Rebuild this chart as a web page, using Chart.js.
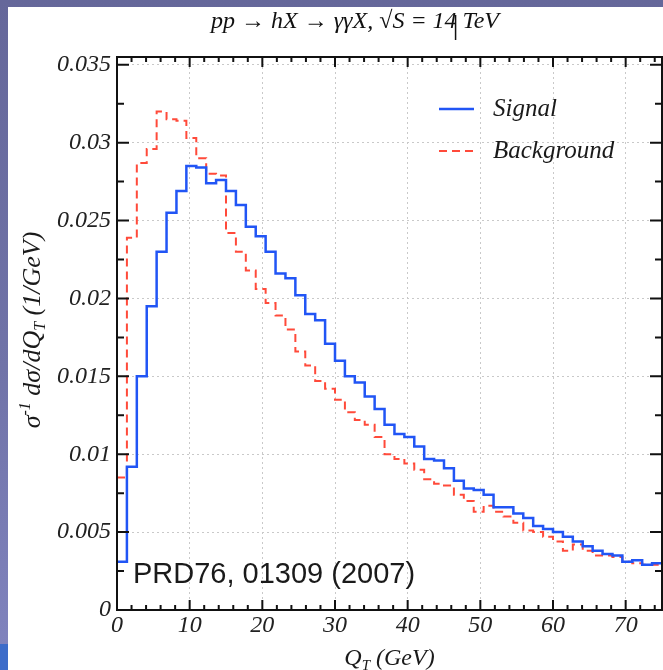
<!DOCTYPE html>
<html>
<head>
<meta charset="utf-8">
<script src="https://cdn.jsdelivr.net/npm/chart.js@4.4.0/dist/chart.umd.min.js"></script>
<style>
    html, body { margin: 0; padding: 0; }
    body {
        width: 663px; height: 670px; overflow: hidden; position: relative;
        background: linear-gradient(to bottom, #65679a 0%, #7073a8 55%, #8184bf 100%);
    }
    #corner { position: absolute; left: 0; top: 644px; width: 8px; height: 26px; background: #3d6cc9; }
    #wrap { position: absolute; left: 8px; top: 7px; width: 655px; height: 663px; background: #fff; }
</style>
</head>
<body>
<div id="corner"></div>
<div id="wrap"><canvas id="chart" width="655" height="663"></canvas></div>
<script>
// Q_T histogram, 55 bins from 0 to 75 GeV
const binWidth = 75 / 55;

const signal = [
    0.0031, 0.0092, 0.0150, 0.0195, 0.0230, 0.0255, 0.0269, 0.0285, 0.0284, 0.0274,
    0.0276, 0.0269, 0.0260, 0.0246, 0.0240, 0.0230, 0.0216, 0.0213, 0.0202, 0.0190,
    0.0186, 0.0171, 0.0160, 0.0150, 0.0146, 0.0137, 0.0129, 0.0119, 0.0113, 0.0111,
    0.0105, 0.0097, 0.0096, 0.0091, 0.0083, 0.0078, 0.0077, 0.0074, 0.0066, 0.0066,
    0.0062, 0.0059, 0.0054, 0.0052, 0.0050, 0.0047, 0.0044, 0.0041, 0.0038, 0.0036,
    0.0035, 0.0031, 0.0032, 0.0029, 0.0030
];

const background = [
    0.0085, 0.0239, 0.0287, 0.0296, 0.0320, 0.0315, 0.0314, 0.0303, 0.0290, 0.0280,
    0.0279, 0.0242, 0.0230, 0.0218, 0.0206, 0.0197, 0.0189, 0.0180, 0.0166, 0.0157,
    0.0147, 0.0142, 0.0135, 0.0127, 0.0122, 0.0119, 0.0111, 0.0100, 0.0097, 0.0094,
    0.0090, 0.0084, 0.0081, 0.0080, 0.0074, 0.0070, 0.0063, 0.0067, 0.0063, 0.0060,
    0.0056, 0.0051, 0.0050, 0.0047, 0.0044, 0.0038, 0.0042, 0.0038, 0.0035, 0.0035,
    0.0034, 0.0031, 0.0030, 0.0029, 0.0029
];

const xTicks = [0, 10, 20, 30, 40, 50, 60, 70];
const yTicks = [0, 0.005, 0.01, 0.015, 0.02, 0.025, 0.03, 0.035];

const SERIF = '"Liberation Serif", "Times New Roman", serif';
const SANS = '"Liberation Sans", Arial, sans-serif';
const BLUE = '#2155f5';
const RED = '#ff4a3a';

// one point per bin left edge, plus the right edge of the last bin
function histPoints(values) {
    const pts = values.map((v, i) => ({ x: i * binWidth, y: v }));
    pts.push({ x: values.length * binWidth, y: values[values.length - 1] });
    return pts;
}

// draw a string made of pieces (sub/superscripts), starting at x
function drawPieces(ctx, pieces, x, y) {
    pieces.forEach(p => {
        ctx.font = 'italic ' + p.size + 'px ' + SERIF;
        ctx.fillText(p.t, x, y + (p.dy || 0));
        x += ctx.measureText(p.t).width;
    });
}
function piecesWidth(ctx, pieces) {
    let w = 0;
    pieces.forEach(p => {
        ctx.font = 'italic ' + p.size + 'px ' + SERIF;
        w += ctx.measureText(p.t).width;
    });
    return w;
}

const decorations = {
    id: 'decorations',
    afterDraw(chart) {
        const ctx = chart.ctx;
        const a = chart.chartArea;
        const xs = chart.scales.x, ys = chart.scales.y;
        ctx.save();

        // frame
        ctx.strokeStyle = '#111';
        ctx.lineWidth = 2;
        ctx.strokeRect(a.left, a.top, a.right - a.left, a.bottom - a.top);

        // inward ticks
        ctx.beginPath();
        for (let v = 0; v <= 75; v += 2) {
            const px = xs.getPixelForValue(v);
            const len = v % 10 === 0 ? 10 : 5;
            ctx.moveTo(px, a.bottom); ctx.lineTo(px, a.bottom - len);
            ctx.moveTo(px, a.top); ctx.lineTo(px, a.top + len);
        }
        for (let k = 0; k <= 14; k++) {
            const py = ys.getPixelForValue(k * 0.0025);
            const len = k % 2 === 0 ? 12 : 7;
            ctx.moveTo(a.left, py); ctx.lineTo(a.left + len, py);
            ctx.moveTo(a.right, py); ctx.lineTo(a.right - len, py);
        }
        ctx.stroke();

        // title
        ctx.fillStyle = '#111';
        ctx.textAlign = 'center';
        ctx.textBaseline = 'alphabetic';
        ctx.font = 'italic 24px ' + SERIF;
        const title = 'pp \u2192 hX \u2192 \u03b3\u03b3X, \u221aS = 14 TeV';
        ctx.fillText(title, 347, 21);
        // text cursor caught in the screenshot
        const tw = ctx.measureText(title).width;
        const upTo14 = ctx.measureText('pp \u2192 hX \u2192 \u03b3\u03b3X, \u221aS = 14').width;
        const cx = 347 - tw / 2 + upTo14 - 1;
        ctx.lineWidth = 1.5;
        ctx.beginPath(); ctx.moveTo(cx, 8); ctx.lineTo(cx, 33); ctx.stroke();

        // legend
        ctx.textAlign = 'left';
        chart.data.datasets.forEach((ds, i) => {
            const y = 102 + i * 42;
            ctx.strokeStyle = ds.borderColor;
            ctx.lineWidth = ds.borderWidth;
            ctx.setLineDash(ds.borderDash || []);
            ctx.beginPath(); ctx.moveTo(431, y); ctx.lineTo(466, y); ctx.stroke();
            ctx.setLineDash([]);
            ctx.fillStyle = '#1a1a1a';
            ctx.font = 'italic 25px ' + SERIF;
            ctx.fillText(ds.label, 485, y + 7);
        });

        // reference note
        ctx.font = '29px ' + SANS;
        ctx.fillStyle = '#1a1a1a';
        ctx.fillText('PRD76, 01309 (2007)', 125, 576);

        // x axis title
        ctx.fillStyle = '#1a1a1a';
        const xt = [{ t: 'Q', size: 24 }, { t: 'T', size: 15, dy: 5 }, { t: ' (GeV)', size: 24 }];
        drawPieces(ctx, xt, (a.left + a.right) / 2 - piecesWidth(ctx, xt) / 2, 658);

        // y axis title (rotated)
        const yt = [
            { t: '\u03c3', size: 26 }, { t: '-1', size: 16, dy: -10 },
            { t: ' d\u03c3/dQ', size: 26 }, { t: 'T', size: 16, dy: 5 },
            { t: ' (1/GeV)', size: 26 }
        ];
        ctx.translate(32, 323);
        ctx.rotate(-Math.PI / 2);
        drawPieces(ctx, yt, -piecesWidth(ctx, yt) / 2, 0);

        ctx.restore();
    }
};

new Chart(document.getElementById('chart'), {
    type: 'line',
    data: {
        datasets: [{
            label: 'Signal',
            data: histPoints(signal),
            borderColor: BLUE,
            borderWidth: 2.5,
            stepped: 'before',
            pointRadius: 0,
            fill: false
        }, {
            label: 'Background',
            data: histPoints(background),
            borderColor: RED,
            borderWidth: 2,
            borderDash: [8, 5],
            stepped: 'before',
            pointRadius: 0,
            fill: false
        }]
    },
    options: {
        responsive: false,
        animation: false,
        devicePixelRatio: 1,
        layout: { padding: { top: 50, right: 1, left: 0, bottom: 0 } },
        plugins: { legend: { display: false }, tooltip: { enabled: false } },
        scales: {
            x: {
                type: 'linear',
                min: 0,
                max: 75,
                afterBuildTicks: s => { s.ticks = xTicks.map(v => ({ value: v })); },
                afterFit: s => { s.height = 60; },
                grid: { color: '#c9c9c9', lineWidth: 1, drawTicks: false },
                border: { display: false, dash: [2, 3] },
                ticks: {
                    font: { family: SERIF, size: 24, style: 'italic' },
                    color: '#222',
                    padding: 1,
                    maxRotation: 0,
                    autoSkip: false,
                    callback: v => String(v)
                }
            },
            y: {
                type: 'linear',
                min: 0,
                max: 0.0355,
                afterBuildTicks: s => { s.ticks = yTicks.map(v => ({ value: v })); },
                afterFit: s => { s.width = 109; },
                grid: { color: '#c9c9c9', lineWidth: 1, drawTicks: false },
                border: { display: false, dash: [2, 3] },
                ticks: {
                    font: { family: SERIF, size: 24, style: 'italic' },
                    color: '#222',
                    padding: 6,
                    autoSkip: false,
                    callback: v => String(v)
                }
            }
        }
    },
    plugins: [decorations]
});
</script>
</body>
</html>
